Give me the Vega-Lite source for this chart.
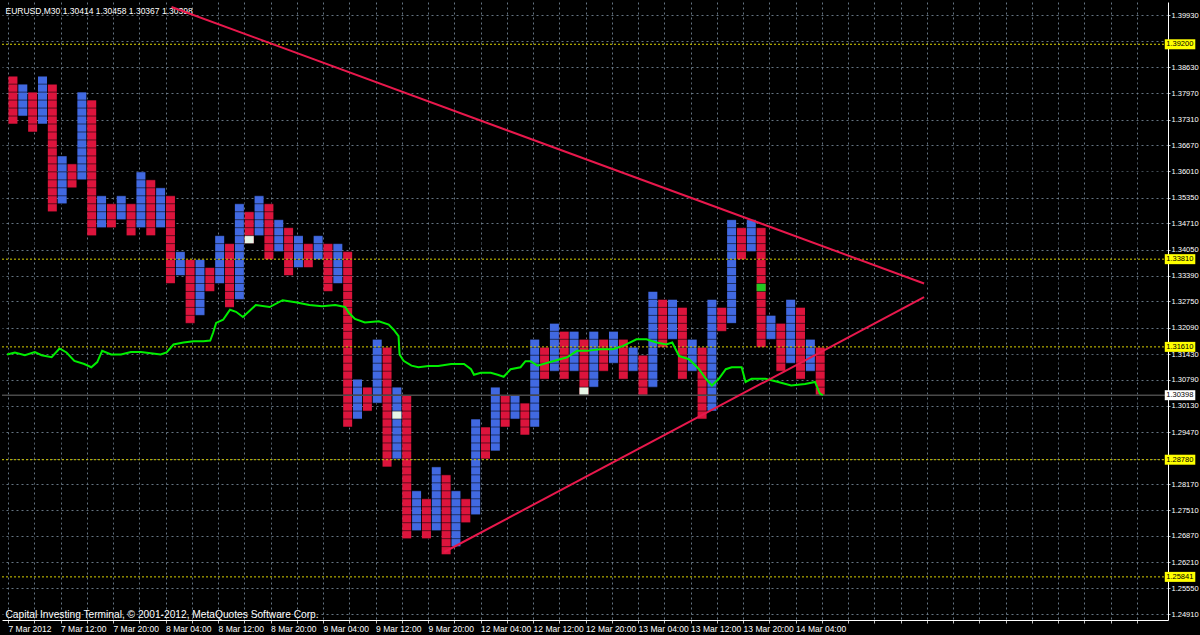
{
  "$schema": "https://vega.github.io/schema/vega-lite/v6.json",
  "width": 1166,
  "height": 618,
  "autosize": {"type": "none"},
  "padding": {"left": 2, "top": 2, "right": 32, "bottom": 15},
  "background": "#000000",
  "config": {"view": {"stroke": null}, "axis": {"labelOverlap": false, "labelBound": false}},
  "datasets": {
    "cols": [
      {"c":0,"t":"down","hi":1.384,"lo":1.372},{"c":1,"t":"up","hi":1.382,"lo":1.374},{"c":2,"t":"down","hi":1.380,"lo":1.370},{"c":3,"t":"up","hi":1.384,"lo":1.372},
      {"c":4,"t":"down","hi":1.382,"lo":1.350},{"c":5,"t":"up","hi":1.364,"lo":1.352},{"c":6,"t":"down","hi":1.362,"lo":1.356},{"c":7,"t":"up","hi":1.380,"lo":1.358},
      {"c":8,"t":"down","hi":1.378,"lo":1.344},{"c":9,"t":"up","hi":1.354,"lo":1.346},{"c":10,"t":"down","hi":1.352,"lo":1.346},{"c":11,"t":"up","hi":1.354,"lo":1.348},
      {"c":12,"t":"down","hi":1.352,"lo":1.344},{"c":13,"t":"up","hi":1.360,"lo":1.346},{"c":14,"t":"down","hi":1.358,"lo":1.344},{"c":15,"t":"up","hi":1.356,"lo":1.346},
      {"c":16,"t":"down","hi":1.354,"lo":1.332},{"c":17,"t":"up","hi":1.340,"lo":1.334},{"c":18,"t":"down","hi":1.338,"lo":1.322},{"c":19,"t":"up","hi":1.338,"lo":1.324},
      {"c":20,"t":"down","hi":1.336,"lo":1.330},{"c":21,"t":"up","hi":1.344,"lo":1.332},{"c":22,"t":"down","hi":1.342,"lo":1.326},{"c":23,"t":"up","hi":1.352,"lo":1.328},
      {"c":24,"t":"down","hi":1.350,"lo":1.342},{"c":25,"t":"up","hi":1.354,"lo":1.344},{"c":26,"t":"down","hi":1.352,"lo":1.338},{"c":27,"t":"up","hi":1.348,"lo":1.340},
      {"c":28,"t":"down","hi":1.346,"lo":1.334},{"c":29,"t":"up","hi":1.344,"lo":1.336},{"c":30,"t":"down","hi":1.342,"lo":1.336},{"c":31,"t":"up","hi":1.344,"lo":1.338},
      {"c":32,"t":"down","hi":1.342,"lo":1.330},{"c":33,"t":"up","hi":1.342,"lo":1.332},{"c":34,"t":"down","hi":1.340,"lo":1.296},{"c":35,"t":"up","hi":1.308,"lo":1.298},
      {"c":36,"t":"down","hi":1.306,"lo":1.300},{"c":37,"t":"up","hi":1.318,"lo":1.302},{"c":38,"t":"down","hi":1.316,"lo":1.286},{"c":39,"t":"up","hi":1.306,"lo":1.288},
      {"c":40,"t":"down","hi":1.304,"lo":1.268},{"c":41,"t":"up","hi":1.280,"lo":1.270},{"c":42,"t":"down","hi":1.278,"lo":1.268},{"c":43,"t":"up","hi":1.286,"lo":1.270},
      {"c":44,"t":"down","hi":1.284,"lo":1.264},{"c":45,"t":"up","hi":1.280,"lo":1.266},{"c":46,"t":"down","hi":1.278,"lo":1.272},{"c":47,"t":"up","hi":1.298,"lo":1.274},
      {"c":48,"t":"down","hi":1.296,"lo":1.288},{"c":49,"t":"up","hi":1.306,"lo":1.290},{"c":50,"t":"down","hi":1.304,"lo":1.296},{"c":51,"t":"up","hi":1.304,"lo":1.298},
      {"c":52,"t":"down","hi":1.302,"lo":1.294},{"c":53,"t":"up","hi":1.318,"lo":1.296},{"c":54,"t":"down","hi":1.316,"lo":1.308},{"c":55,"t":"up","hi":1.322,"lo":1.310},
      {"c":56,"t":"down","hi":1.320,"lo":1.308},{"c":57,"t":"up","hi":1.320,"lo":1.310},{"c":58,"t":"down","hi":1.318,"lo":1.304},{"c":59,"t":"up","hi":1.320,"lo":1.306},
      {"c":60,"t":"down","hi":1.318,"lo":1.310},{"c":61,"t":"up","hi":1.320,"lo":1.312},{"c":62,"t":"down","hi":1.318,"lo":1.308},{"c":63,"t":"up","hi":1.316,"lo":1.310},
      {"c":64,"t":"down","hi":1.314,"lo":1.304},{"c":65,"t":"up","hi":1.330,"lo":1.306},{"c":66,"t":"down","hi":1.328,"lo":1.316},{"c":67,"t":"up","hi":1.328,"lo":1.318},
      {"c":68,"t":"down","hi":1.326,"lo":1.308},{"c":69,"t":"up","hi":1.318,"lo":1.310},{"c":70,"t":"down","hi":1.316,"lo":1.298},{"c":71,"t":"up","hi":1.328,"lo":1.300},
      {"c":72,"t":"down","hi":1.326,"lo":1.320},{"c":73,"t":"up","hi":1.348,"lo":1.322},{"c":74,"t":"down","hi":1.346,"lo":1.338},{"c":75,"t":"up","hi":1.348,"lo":1.340},
      {"c":76,"t":"down","hi":1.346,"lo":1.316},{"c":77,"t":"up","hi":1.324,"lo":1.318},{"c":78,"t":"down","hi":1.322,"lo":1.310},{"c":79,"t":"up","hi":1.328,"lo":1.312},
      {"c":80,"t":"down","hi":1.326,"lo":1.308},{"c":81,"t":"up","hi":1.318,"lo":1.310},{"c":82,"t":"down","hi":1.316,"lo":1.304}
    ],
    "special": [
      {"c":24,"t":"white","hi":1.344,"lo":1.342},{"c":39,"t":"white","hi":1.300,"lo":1.298},{"c":58,"t":"white","hi":1.306,"lo":1.304},{"c":76,"t":"green","hi":1.332,"lo":1.330}
    ],
    "boxgrid": [
      {"p":1.264},{"p":1.266},{"p":1.268},{"p":1.27},{"p":1.272},{"p":1.274},{"p":1.276},{"p":1.278},{"p":1.28},{"p":1.282},{"p":1.284},{"p":1.286},{"p":1.288},{"p":1.29},{"p":1.292},{"p":1.294},{"p":1.296},{"p":1.298},{"p":1.3},{"p":1.302},{"p":1.304},{"p":1.306},{"p":1.308},{"p":1.31},{"p":1.312},{"p":1.314},{"p":1.316},{"p":1.318},{"p":1.32},{"p":1.322},{"p":1.324},{"p":1.326},{"p":1.328},{"p":1.33},{"p":1.332},{"p":1.334},{"p":1.336},{"p":1.338},{"p":1.34},{"p":1.342},{"p":1.344},{"p":1.346},{"p":1.348},{"p":1.35},{"p":1.352},{"p":1.354},{"p":1.356},{"p":1.358},{"p":1.36},{"p":1.362},{"p":1.364},{"p":1.366},{"p":1.368},{"p":1.37},{"p":1.372},{"p":1.374},{"p":1.376},{"p":1.378},{"p":1.38},{"p":1.382},{"p":1.384}
    ],
    "lvl": [{"p":1.392},{"p":1.3381},{"p":1.3161},{"p":1.2878},{"p":1.25841}],
    "bid": [{"p":1.30398}],
    "px": [{"c":-0.6,"p":1.3142},{"c":0.2,"p":1.3147},{"c":1.21,"p":1.3140},{"c":2.22,"p":1.3148},{"c":2.92,"p":1.3140},{"c":3.93,"p":1.3135},{"c":4.73,"p":1.3157},{"c":5.44,"p":1.3147},{"c":6.24,"p":1.3126},{"c":7.25,"p":1.3118},{"c":7.96,"p":1.3110},{"c":8.56,"p":1.3123},{"c":9.06,"p":1.3151},{"c":9.97,"p":1.3142},{"c":10.98,"p":1.3142},{"c":11.98,"p":1.3148},{"c":12.99,"p":1.3148},{"c":14.0,"p":1.3145},{"c":15.0,"p":1.3142},{"c":15.61,"p":1.3147},{"c":16.31,"p":1.3167},{"c":17.32,"p":1.3172},{"c":18.33,"p":1.3175},{"c":19.34,"p":1.3175},{"c":20.04,"p":1.3177},{"c":20.34,"p":1.3197},{"c":20.64,"p":1.3221},{"c":21.35,"p":1.3229},{"c":22.05,"p":1.3254},{"c":22.66,"p":1.3249},{"c":23.36,"p":1.3236},{"c":24.67,"p":1.3266},{"c":26.08,"p":1.3261},{"c":27.39,"p":1.3278},{"c":28.70,"p":1.3273},{"c":30.11,"p":1.3266},{"c":31.42,"p":1.3263},{"c":32.73,"p":1.3266},{"c":33.74,"p":1.3261},{"c":34.14,"p":1.3246},{"c":34.74,"p":1.3231},{"c":35.75,"p":1.3222},{"c":37.16,"p":1.3225},{"c":38.17,"p":1.3217},{"c":38.67,"p":1.3204},{"c":39.17,"p":1.3188},{"c":39.27,"p":1.3142},{"c":39.68,"p":1.3126},{"c":40.48,"p":1.3114},{"c":41.19,"p":1.3110},{"c":42.20,"p":1.3113},{"c":43.20,"p":1.3113},{"c":44.51,"p":1.3118},{"c":45.82,"p":1.3118},{"c":46.53,"p":1.3105},{"c":46.83,"p":1.3091},{"c":47.53,"p":1.3096},{"c":48.54,"p":1.3096},{"c":49.24,"p":1.3091},{"c":49.85,"p":1.3086},{"c":50.55,"p":1.3105},{"c":51.56,"p":1.3110},{"c":52.06,"p":1.3125},{"c":52.57,"p":1.3125},{"c":53.27,"p":1.3114},{"c":54.58,"p":1.3123},{"c":56.29,"p":1.3135},{"c":57.30,"p":1.3151},{"c":58.31,"p":1.3151},{"c":59.62,"p":1.3155},{"c":60.93,"p":1.3155},{"c":61.93,"p":1.3163},{"c":63.34,"p":1.3180},{"c":64.35,"p":1.3180},{"c":65.36,"p":1.3172},{"c":66.36,"p":1.3167},{"c":66.97,"p":1.3172},{"c":67.67,"p":1.3138},{"c":68.68,"p":1.3130},{"c":69.69,"p":1.3105},{"c":70.39,"p":1.3081},{"c":71.0,"p":1.3064},{"c":71.70,"p":1.3081},{"c":72.41,"p":1.3105},{"c":73.01,"p":1.3110},{"c":74.02,"p":1.3110},{"c":74.42,"p":1.3073},{"c":75.03,"p":1.3081},{"c":76.44,"p":1.3081},{"c":77.74,"p":1.3073},{"c":79.05,"p":1.3064},{"c":80.46,"p":1.3068},{"c":81.47,"p":1.3073},{"c":81.97,"p":1.3044},{"c":82.28,"p":1.3040}],
    "trend": [{"id":"upper","c":16.11,"p":1.40135},{"id":"upper","c":92.55,"p":1.33201},{"id":"lower","c":43.81,"p":1.26465},{"id":"lower","c":92.55,"p":1.32856}]
  },
  "layer": [
    {
      "data": {"name": "cols"},
      "mark": {"type": "bar", "size": 9},
      "encoding": {
        "x": {"field": "c", "type": "quantitative", "scale": {"domain": [-0.604, 116.82], "nice": false, "zero": false},
          "axis": {"orient": "bottom", "tickCount": 200, "values": [-0.5,2.1667,4.8333,7.5,10.1667,12.8333,15.5,18.1667,20.8333,23.5,26.1667,28.8333,31.5,34.1667,36.8333,39.5,42.1667,44.8333,47.5,50.1667,52.8333,55.5,58.1667,60.8333,63.5,66.1667,68.8333,71.5,74.1667,76.8333,79.5,82.1667,84.8333,87.5,90.1667,92.8333,95.5,98.1667,100.8333,103.5,106.1667,108.8333,111.5,114.1667],
            "labelExpr": "(round((datum.value+0.5)*0.375) % 2 == 0 && round((datum.value+0.5)*0.375) <= 30) ? ['7 Mar 2012','7 Mar 12:00','7 Mar 20:00','8 Mar 04:00','8 Mar 12:00','8 Mar 20:00','9 Mar 04:00','9 Mar 12:00','9 Mar 20:00','12 Mar 04:00','12 Mar 12:00','12 Mar 20:00','13 Mar 04:00','13 Mar 12:00','13 Mar 20:00','14 Mar 04:00'][round((datum.value+0.5)*0.1875)] : ''",
            "grid": true, "gridColor": "#778899", "gridDash": [2, 3], "gridOpacity": 0.85,
            "domainColor": "#ffffff", "tickColor": "#c0c0c0", "tickSize": 3,
            "labelColor": "#ffffff", "labelFont": "Liberation Sans", "labelFontSize": 8.5, "labelAlign": "left", "labelBaseline": "top", "labelPadding": 1, "labelOverlap": false, "labelFlush": false, "labelBound": false,
            "title": "Capital Investing Terminal, © 2001-2012, MetaQuotes Software Corp.", "titleX": 3, "titleY": -3, "titleAlign": "left", "titleBaseline": "alphabetic", "titleAnchor": "start", "titleColor": "#ffffff", "titleFont": "Liberation Sans", "titleFontSize": 10.2, "titleFontWeight": "normal"}},
        "y": {"field": "hi", "type": "quantitative", "scale": {"domain": [1.24885, 1.40135], "nice": false, "zero": false},
          "axis": {"orient": "right", "tickCount": 200, "values": [1.3993,1.3927,1.3863,1.3797,1.3731,1.3667,1.3601,1.3535,1.3471,1.3405,1.3339,1.3275,1.3209,1.3143,1.3079,1.3013,1.2947,1.2881,1.2817,1.2751,1.2687,1.2621,1.2555,1.2491],
            "format": ".5f", "labelExpr": "(datum.value == 1.3927 || datum.value == 1.2881) ? '' : datum.label",
            "grid": true, "gridColor": "#778899", "gridDash": [2, 3], "gridOpacity": 0.85,
            "domainColor": "#ffffff", "tickColor": "#c0c0c0", "tickSize": 2,
            "labelColor": "#ffffff", "labelFont": "Liberation Sans", "labelFontSize": 7.5, "labelAlign": "left", "labelBaseline": "middle", "labelPadding": 1, "labelOverlap": false, "labelBound": false,
            "title": "EURUSD,M30  1.30414 1.30458 1.30367 1.30398", "titleX": -1163, "titleY": 11, "titleAngle": 0, "titleAlign": "left", "titleBaseline": "alphabetic", "titleAnchor": "start", "titleColor": "#ffffff", "titleFont": "Liberation Sans", "titleFontSize": 8.5, "titleFontWeight": "normal"}},
        "y2": {"field": "lo"},
        "color": {"field": "t", "type": "nominal", "scale": {"domain": ["down", "up", "white", "green"], "range": ["#dc143c", "#4169e1", "#e6f5e6", "#22c822"]}, "legend": null}
      }
    },
    {
      "data": {"name": "special"},
      "mark": {"type": "bar", "size": 9},
      "encoding": {
        "x": {"field": "c", "type": "quantitative"},
        "y": {"field": "hi", "type": "quantitative"},
        "y2": {"field": "lo"},
        "color": {"field": "t", "type": "nominal", "legend": null}
      }
    },
    {
      "data": {"name": "boxgrid"},
      "mark": {"type": "rule", "color": "#000000", "strokeWidth": 1, "opacity": 0.55},
      "encoding": {"y": {"field": "p", "type": "quantitative"}}
    },
    {
      "data": {"name": "lvl"},
      "mark": {"type": "rule", "color": "#d8d000", "strokeWidth": 1, "strokeDash": [2, 2]},
      "encoding": {"y": {"field": "p", "type": "quantitative"}}
    },
    {
      "data": {"name": "bid"},
      "mark": {"type": "rule", "color": "#4a4a4a", "strokeWidth": 1.5},
      "encoding": {"y": {"field": "p", "type": "quantitative"}}
    },
    {
      "data": {"name": "px"},
      "mark": {"type": "line", "color": "#00ee00", "strokeWidth": 2},
      "encoding": {"x": {"field": "c", "type": "quantitative"}, "y": {"field": "p", "type": "quantitative"}}
    },
    {
      "data": {"name": "trend"},
      "mark": {"type": "line", "color": "#e8184c", "strokeWidth": 2},
      "encoding": {"x": {"field": "c", "type": "quantitative"}, "y": {"field": "p", "type": "quantitative"}, "detail": {"field": "id"}}
    },
    {
      "data": {"name": "lvl"},
      "mark": {"type": "bar", "orient": "horizontal", "size": 10, "color": "#ffff00"},
      "encoding": {"y": {"field": "p", "type": "quantitative"}, "x": {"datum": 117.0, "type": "quantitative"}, "x2": {"datum": 120.1}}
    },
    {
      "data": {"name": "bid"},
      "mark": {"type": "bar", "orient": "horizontal", "size": 10, "color": "#ffffff"},
      "encoding": {"y": {"field": "p", "type": "quantitative"}, "x": {"datum": 117.0, "type": "quantitative"}, "x2": {"datum": 120.1}}
    },
    {
      "data": {"name": "lvl"},
      "mark": {"type": "text", "align": "left", "baseline": "middle", "font": "Liberation Sans", "fontSize": 7.5, "color": "#000000"},
      "encoding": {"y": {"field": "p", "type": "quantitative"}, "x": {"datum": 117.15, "type": "quantitative"}, "text": {"field": "p", "type": "quantitative", "format": ".5f"}}
    },
    {
      "data": {"name": "bid"},
      "mark": {"type": "text", "align": "left", "baseline": "middle", "font": "Liberation Sans", "fontSize": 7.5, "color": "#000000"},
      "encoding": {"y": {"field": "p", "type": "quantitative"}, "x": {"datum": 117.15, "type": "quantitative"}, "text": {"field": "p", "type": "quantitative", "format": ".5f"}}
    }
  ]
}
